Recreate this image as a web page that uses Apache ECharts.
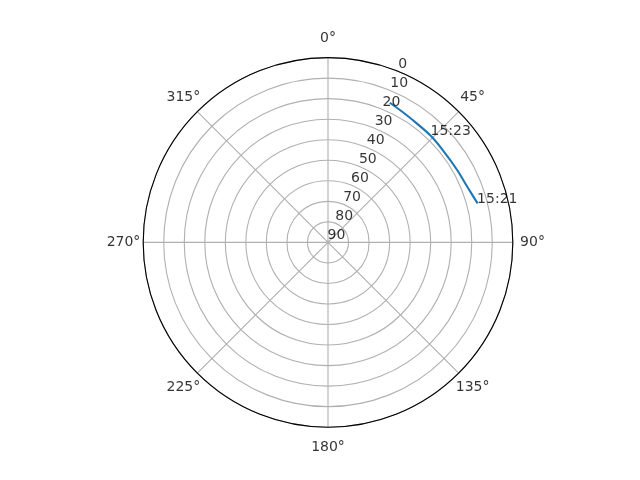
<!DOCTYPE html>
<html>
<head>
<meta charset="utf-8">
<script src="https://cdn.jsdelivr.net/npm/echarts@6/dist/echarts.min.js"></script>
<style>
  html, body { margin: 0; padding: 0; background: #ffffff; }
  #chart { width: 640px; height: 480px; }
</style>
</head>
<body>
<div id="chart"></div>
<script>
// Track (azimuth in degrees clockwise from north, elevation in degrees)
const trackAz = [23.9, 30.1, 36.7, 44.1, 51.8, 60.6, 68.9, 75.4];
const trackEl = [15.6, 16.9, 17.7, 17.9, 18.3, 17.9, 16.8, 14.7];

// Time annotations
const timeLabels = ['15:23', '15:21'];
const timeAz = [44.1, 75.4];
const timeEl = [17.9, 14.7];

// Tick labels
const radiusTicks = [0, 10, 20, 30, 40, 50, 60, 70, 80, 90];
const angleTicks = [0, 45, 90, 135, 180, 225, 270, 315];

const RADIUS_LABEL_ANGLE = 22.5;   // where the radial tick labels sit
const ANGLE_LABEL_R = -9.6;        // just outside the outer ring (0 elevation)

const FONT = 'DejaVu Sans';
const FS = 14;

const chart = echarts.init(document.getElementById('chart'), null, { renderer: 'canvas' });

const option = {
  animation: false,
  backgroundColor: '#ffffff',
  textStyle: { fontFamily: FONT },
  polar: { center: [328, 242.4], radius: 184.8 },
  angleAxis: {
    type: 'value', min: 0, max: 360, interval: 45,
    startAngle: 90, clockwise: true, z: 3,
    axisLine: { show: true, lineStyle: { color: '#000000', width: 1.1 } },
    axisTick: { show: false },
    axisLabel: { show: false },
    splitLine: { show: true, lineStyle: { color: '#b0b0b0', width: 1.1 } }
  },
  radiusAxis: {
    type: 'value', min: 0, max: 90, interval: 10, inverse: true,
    axisLine: { show: false },
    axisTick: { show: false },
    axisLabel: { show: false },
    splitLine: { show: true, lineStyle: { color: '#b0b0b0', width: 1.1 } }
  },
  series: [
    {
      type: 'line', coordinateSystem: 'polar', z: 5,
      data: trackAz.map((a, i) => [trackEl[i], a]),
      showSymbol: false, smooth: 0.3,
      lineStyle: { color: '#1f77b4', width: 2.1 }
    },
    {
      type: 'scatter', coordinateSystem: 'polar', clip: false, z: 6,
      data: timeLabels.map((t, i) => ({ value: [timeEl[i], timeAz[i]], name: t })),
      symbolSize: 1, itemStyle: { color: 'rgba(0,0,0,0)' },
      label: {
        show: true, position: [0, 0], align: 'left', verticalAlign: 'bottom',
        offset: [0, 3], formatter: p => p.name,
        color: '#000000', fontFamily: FONT, fontSize: FS
      }
    },
    {
      type: 'scatter', coordinateSystem: 'polar', clip: false, z: 6,
      data: radiusTicks.map(r => ({ value: [r, RADIUS_LABEL_ANGLE], name: String(r) })),
      symbolSize: 1, itemStyle: { color: 'rgba(0,0,0,0)' },
      label: {
        show: true, position: [0, 0], align: 'left', verticalAlign: 'bottom',
        formatter: p => p.name,
        color: '#000000', fontFamily: FONT, fontSize: FS
      }
    },
    {
      type: 'scatter', coordinateSystem: 'polar', clip: false, z: 6,
      data: angleTicks.map(a => ({ value: [ANGLE_LABEL_R, a], name: a + '°' })),
      symbolSize: 1, itemStyle: { color: 'rgba(0,0,0,0)' },
      label: {
        show: true, position: 'inside', align: 'center', verticalAlign: 'middle',
        formatter: p => p.name,
        color: '#000000', fontFamily: FONT, fontSize: FS
      }
    }
  ]
};

chart.setOption(option);
</script>
</body>
</html>
